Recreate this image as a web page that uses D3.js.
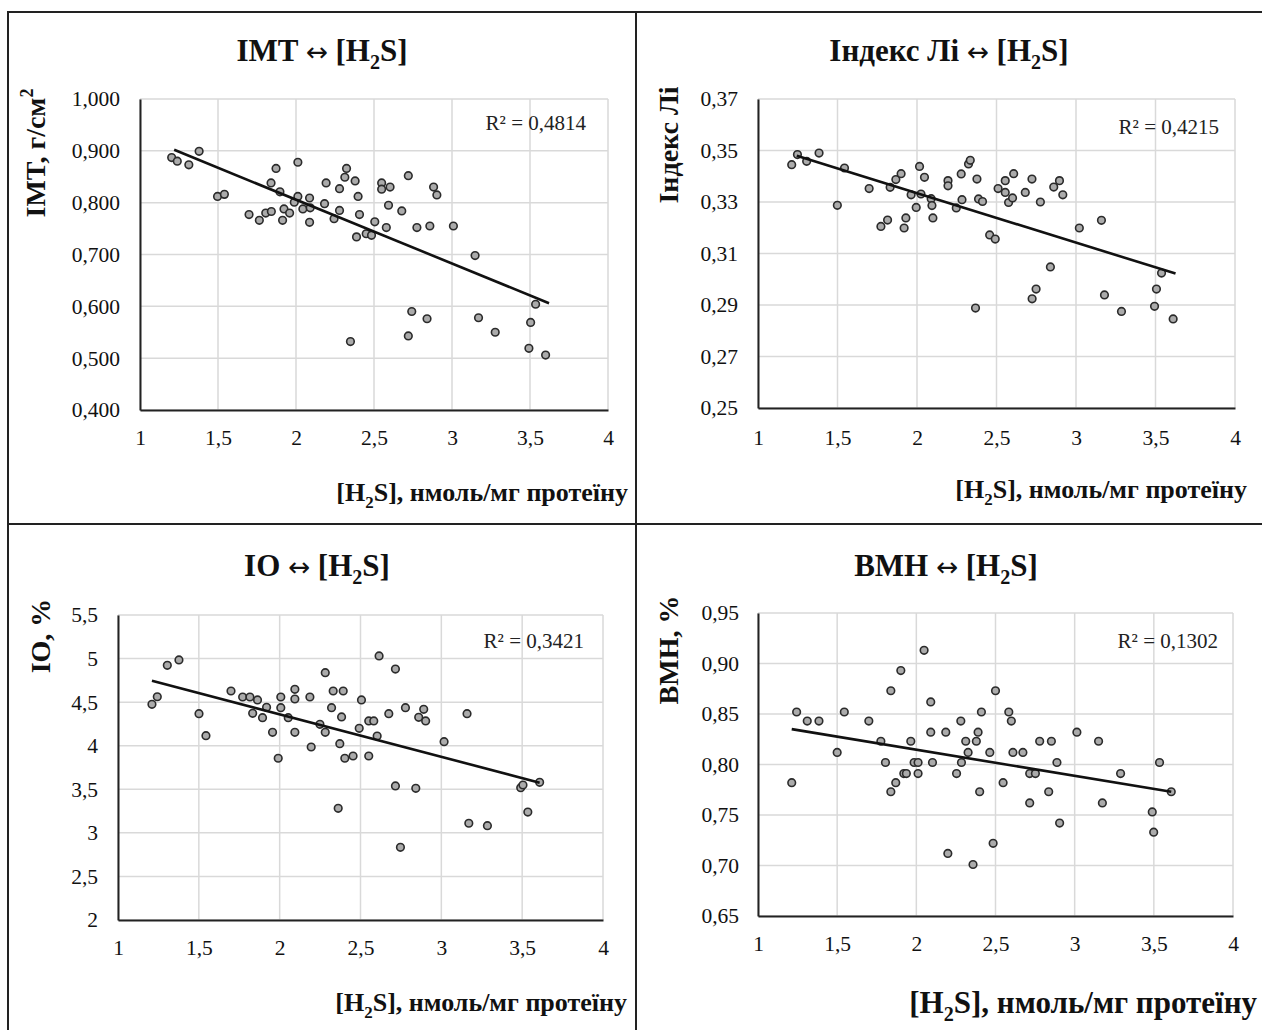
<!DOCTYPE html>
<html><head><meta charset="utf-8">
<script src="https://cdn.jsdelivr.net/npm/d3@7"></script>
<style>body{margin:0;background:#fff}svg{display:block}</style>
</head><body>
<svg id="c" width="1262" height="1030"></svg>
<script>
// ---------- DATA ----------
const xTicks = [1, 1.5, 2, 2.5, 3, 3.5, 4];
const xTickLabels = ["1", "1,5", "2", "2,5", "3", "3,5", "4"];

const imtTicks = [0.4, 0.5, 0.6, 0.7, 0.8, 0.9, 1.0];
const imtTickLabels = ["0,400", "0,500", "0,600", "0,700", "0,800", "0,900", "1,000"];
const imtH2S = [1.203,1.239,1.313,1.379,1.497,1.541,1.699,1.765,1.806,1.842,1.840,1.872,1.897,1.914,1.923,1.959,1.989,2.012,2.012,2.044,2.087,2.091,2.087,2.183,2.193,2.244,2.279,2.279,2.313,2.324,2.349,2.379,2.398,2.407,2.388,2.450,2.484,2.505,2.549,2.549,2.603,2.593,2.579,2.678,2.720,2.742,2.720,2.775,2.840,2.858,2.882,2.903,3.009,3.148,3.170,3.277,3.493,3.504,3.536,3.600];
const imtValues = [0.887,0.880,0.873,0.899,0.812,0.816,0.777,0.766,0.780,0.783,0.838,0.866,0.821,0.766,0.788,0.780,0.801,0.878,0.812,0.788,0.809,0.790,0.762,0.798,0.838,0.769,0.785,0.827,0.849,0.866,0.532,0.842,0.812,0.777,0.734,0.740,0.737,0.763,0.838,0.826,0.830,0.795,0.752,0.784,0.852,0.590,0.543,0.752,0.576,0.755,0.830,0.815,0.755,0.698,0.578,0.550,0.519,0.569,0.604,0.506];
const imtTrend = [[1.219, 0.902], [3.622, 0.606]];
const imtR2 = "R² = 0,4814";

const liTicks = [0.25, 0.27, 0.29, 0.31, 0.33, 0.35, 0.37];
const liTickLabels = ["0,25", "0,27", "0,29", "0,31", "0,33", "0,35", "0,37"];
const liH2S = [1.212,1.248,1.306,1.384,1.499,1.544,1.699,1.773,1.815,1.831,1.867,1.900,1.919,1.930,1.963,1.995,2.016,2.025,2.047,2.089,2.094,2.100,2.195,2.195,2.247,2.278,2.283,2.324,2.335,2.368,2.377,2.387,2.412,2.457,2.492,2.510,2.555,2.555,2.576,2.601,2.608,2.681,2.723,2.724,2.749,2.776,2.839,2.860,2.896,2.917,3.021,3.160,3.179,3.286,3.494,3.506,3.538,3.611];
const liValues = [0.3445,0.3484,0.3458,0.3490,0.3287,0.3432,0.3352,0.3205,0.3230,0.3357,0.3387,0.3410,0.3199,0.3238,0.3328,0.3279,0.3438,0.3331,0.3396,0.3313,0.3286,0.3238,0.3383,0.3363,0.3277,0.3409,0.3309,0.3448,0.3462,0.2888,0.3389,0.3312,0.3302,0.3172,0.3156,0.3352,0.3383,0.3337,0.3298,0.3316,0.3410,0.3337,0.3389,0.2924,0.2962,0.3300,0.3048,0.3358,0.3383,0.3328,0.3199,0.3229,0.2939,0.2875,0.2895,0.2962,0.3024,0.2846];
const liTrend = [[1.244, 0.3480], [3.626, 0.3022]];
const liR2 = "R² = 0,4215";

const ioTicks = [2, 2.5, 3, 3.5, 4, 4.5, 5, 5.5];
const ioTickLabels = ["2", "2,5", "3", "3,5", "4", "4,5", "5", "5,5"];
const ioH2S = [1.210,1.243,1.305,1.377,1.501,1.544,1.699,1.771,1.816,1.833,1.863,1.894,1.919,1.956,1.991,2.007,2.007,2.053,2.094,2.094,2.094,2.187,2.195,2.249,2.282,2.282,2.321,2.331,2.362,2.372,2.383,2.393,2.403,2.454,2.492,2.506,2.551,2.551,2.582,2.603,2.615,2.675,2.716,2.716,2.747,2.778,2.842,2.860,2.891,2.903,3.017,3.159,3.170,3.285,3.491,3.505,3.535,3.608];
const ioValues = [4.475,4.562,4.923,4.984,4.368,4.115,4.628,4.559,4.559,4.372,4.525,4.322,4.441,4.154,3.856,4.559,4.436,4.322,4.647,4.536,4.154,4.559,3.985,4.246,4.838,4.154,4.436,4.628,3.282,4.023,4.330,4.628,3.856,3.882,4.200,4.525,3.882,4.284,4.284,4.111,5.030,4.368,4.880,3.538,2.834,4.436,3.511,4.326,4.418,4.284,4.046,4.368,3.110,3.082,3.518,3.549,3.239,3.580];
const ioTrend = [[1.210, 4.746], [3.608, 3.576]];
const ioR2 = "R² = 0,3421";

const bmhTicks = [0.65, 0.70, 0.75, 0.80, 0.85, 0.90, 0.95];
const bmhTickLabels = ["0,65", "0,70", "0,75", "0,80", "0,85", "0,90", "0,95"];
const bmhH2S = [1.213,1.244,1.311,1.385,1.500,1.545,1.700,1.776,1.805,1.839,1.839,1.870,1.902,1.921,1.937,1.965,1.986,2.011,2.011,2.049,2.091,2.091,2.102,2.186,2.199,2.254,2.281,2.285,2.312,2.327,2.358,2.379,2.390,2.411,2.400,2.464,2.485,2.500,2.548,2.584,2.600,2.610,2.673,2.716,2.752,2.716,2.779,2.836,2.853,2.888,2.905,3.014,3.151,3.175,3.290,3.536,3.490,3.499,3.610];
const bmhValues = [0.782,0.852,0.843,0.843,0.812,0.852,0.843,0.823,0.802,0.873,0.773,0.782,0.893,0.791,0.791,0.823,0.802,0.802,0.791,0.913,0.862,0.832,0.802,0.832,0.712,0.791,0.843,0.802,0.823,0.812,0.701,0.823,0.832,0.852,0.773,0.812,0.722,0.873,0.782,0.852,0.843,0.812,0.812,0.791,0.791,0.762,0.823,0.773,0.823,0.802,0.742,0.832,0.823,0.762,0.791,0.802,0.753,0.733,0.773];
const bmhTrend = [[1.213, 0.835], [3.610, 0.773]];
const bmhR2 = "R² = 0,1302";

// ---------- DRAWING ----------
const SERIF = "'Liberation Serif','Times New Roman',serif";
const svg = d3.select("#c");

function rich(textSel, parts, size) {
  let shift = 0;
  parts.forEach(p => {
    const ts = textSel.append("tspan").text(p.t);
    let target = 0;
    if (p.sub) { ts.attr("font-size", size * 0.65); target = size * 0.25; }
    else if (p.sup) { ts.attr("font-size", size * 0.65); target = -size * 0.42; }
    if (p.arrow) ts.attr("font-family", "'DejaVu Sans'").attr("font-weight", "normal").attr("font-size", size * 0.85);
    const dy = target - shift;
    if (dy !== 0) ts.attr("dy", dy);
    shift = target;
  });
}

// frame lines
const frame = svg.append("g").attr("stroke", "#222").attr("stroke-width", 2);
frame.append("line").attr("x1", 7).attr("x2", 1262).attr("y1", 12).attr("y2", 12);
frame.append("line").attr("x1", 8).attr("x2", 8).attr("y1", 11).attr("y2", 1030);
frame.append("line").attr("x1", 636).attr("x2", 636).attr("y1", 11).attr("y2", 1030);
frame.append("line").attr("x1", 7).attr("x2", 1262).attr("y1", 524).attr("y2", 524);

function panel(cfg) {
  const g = svg.append("g");
  const x = d3.scaleLinear().domain([1, 4]).range([cfg.left, cfg.right]);
  const y = d3.scaleLinear().domain(cfg.yDomain).range([cfg.bottom, cfg.top]);

  // grid
  const grid = g.append("g").attr("stroke", "#d9d9d9").attr("stroke-width", 1.5);
  grid.selectAll(".gx").data(xTicks).join("line")
    .attr("x1", d => x(d)).attr("x2", d => x(d))
    .attr("y1", cfg.top).attr("y2", cfg.bottom);
  grid.selectAll(".gy").data(cfg.yTicks).join("line")
    .attr("x1", cfg.left).attr("x2", cfg.right)
    .attr("y1", d => y(d)).attr("y2", d => y(d));

  // axes (labels only, no tick marks)
  const xAxis = d3.axisBottom(x).tickValues(xTicks).tickSize(0).tickPadding(cfg.xPad)
    .tickFormat((d, i) => xTickLabels[i]);
  const gx = g.append("g").attr("transform", `translate(0,${cfg.bottom})`).call(xAxis);
  gx.select(".domain").attr("stroke", "#222").attr("stroke-width", 2);
  gx.selectAll("text").attr("font-family", SERIF).attr("font-size", cfg.tickSize).attr("fill", "#111");

  const yAxis = d3.axisLeft(y).tickValues(cfg.yTicks).tickSize(0).tickPadding(cfg.yPad)
    .tickFormat((d, i) => cfg.yTickLabels[i]);
  const gy = g.append("g").attr("transform", `translate(${cfg.left},0)`).call(yAxis);
  gy.select(".domain").attr("stroke", "#222").attr("stroke-width", 2);
  gy.selectAll("text").attr("font-family", SERIF).attr("font-size", cfg.tickSize).attr("fill", "#111");

  // points
  const pts = cfg.xs.map((v, i) => [v, cfg.ys[i]]);
  g.append("g").selectAll("circle").data(pts).join("circle")
    .attr("cx", d => x(d[0])).attr("cy", d => y(d[1])).attr("r", 3.8)
    .attr("fill", "#ababab").attr("stroke", "#2b2b2b").attr("stroke-width", 1.6);

  // trend line
  g.append("path").datum(cfg.trend)
    .attr("d", d3.line().x(d => x(d[0])).y(d => y(d[1])))
    .attr("stroke", "#111").attr("stroke-width", 2.6).attr("fill", "none");

  // R² label
  g.append("text").attr("x", cfg.r2x).attr("y", cfg.r2y).attr("text-anchor", "end")
    .attr("font-family", SERIF).attr("font-size", cfg.r2Size).attr("fill", "#222").text(cfg.r2);

  // title
  const t = g.append("text").attr("x", cfg.titleX).attr("y", cfg.titleY).attr("text-anchor", "middle")
    .attr("font-family", SERIF).attr("font-weight", "bold").attr("font-size", cfg.titleSize).attr("fill", "#111");
  rich(t, cfg.title, cfg.titleSize);

  // y label
  const yl = g.append("text").attr("transform", `translate(${cfg.ylX},${cfg.ylY}) rotate(-90)`)
    .attr("text-anchor", "middle").attr("font-family", SERIF).attr("font-weight", "bold")
    .attr("font-size", cfg.ylSize).attr("fill", "#111");
  rich(yl, cfg.yLabel, cfg.ylSize);

  // x label
  const xl = g.append("text").attr("x", cfg.xlX).attr("y", cfg.xlY).attr("text-anchor", "end")
    .attr("font-family", SERIF).attr("font-weight", "bold").attr("font-size", cfg.xlSize).attr("fill", "#111");
  rich(xl, [{t: "[H"}, {t: "2", sub: true}, {t: "S], нмоль/мг протеїну"}], cfg.xlSize);
}

const T = s => [{t: s + " "}, {t: "↔", arrow: true}, {t: " [H"}, {t: "2", sub: true}, {t: "S]"}];

panel({
  left: 140, right: 608, top: 99, bottom: 410,
  yDomain: [0.4, 1.0], yTicks: imtTicks, yTickLabels: imtTickLabels,
  xs: imtH2S, ys: imtValues, trend: imtTrend, r2: imtR2, r2x: 586, r2y: 130, r2Size: 21,
  tickSize: 21.5, xPad: 20, yPad: 20,
  title: T("IMT"), titleX: 322, titleY: 61, titleSize: 31,
  yLabel: [{t: "IMT,  г/см"}, {t: "2", sup: true}], ylX: 45, ylY: 153, ylSize: 28,
  xlX: 628, xlY: 501, xlSize: 26
});
panel({
  left: 758, right: 1235, top: 99, bottom: 408,
  yDomain: [0.25, 0.37], yTicks: liTicks, yTickLabels: liTickLabels,
  xs: liH2S, ys: liValues, trend: liTrend, r2: liR2, r2x: 1219, r2y: 134, r2Size: 21,
  tickSize: 21.5, xPad: 22, yPad: 20,
  title: T("Індекс Лі"), titleX: 949, titleY: 61, titleSize: 31,
  yLabel: [{t: "Індекс Лі"}], ylX: 678, ylY: 145, ylSize: 28,
  xlX: 1247, xlY: 498, xlSize: 26
});
panel({
  left: 118, right: 603, top: 615, bottom: 920,
  yDomain: [2, 5.5], yTicks: ioTicks, yTickLabels: ioTickLabels,
  xs: ioH2S, ys: ioValues, trend: ioTrend, r2: ioR2, r2x: 584, r2y: 648, r2Size: 21,
  tickSize: 21.5, xPad: 20, yPad: 20,
  title: T("IO"), titleX: 317, titleY: 576, titleSize: 31,
  yLabel: [{t: "IO, %"}], ylX: 50, ylY: 636, ylSize: 28,
  xlX: 627, xlY: 1011, xlSize: 26
});
panel({
  left: 758, right: 1233, top: 613, bottom: 916,
  yDomain: [0.65, 0.95], yTicks: bmhTicks, yTickLabels: bmhTickLabels,
  xs: bmhH2S, ys: bmhValues, trend: bmhTrend, r2: bmhR2, r2x: 1218, r2y: 648, r2Size: 21,
  tickSize: 21.5, xPad: 20, yPad: 19,
  title: T("ВМН"), titleX: 946, titleY: 576, titleSize: 31,
  yLabel: [{t: "ВМН, %"}], ylX: 678, ylY: 650, ylSize: 28,
  xlX: 1257, xlY: 1013, xlSize: 31
});
</script>
</body></html>
